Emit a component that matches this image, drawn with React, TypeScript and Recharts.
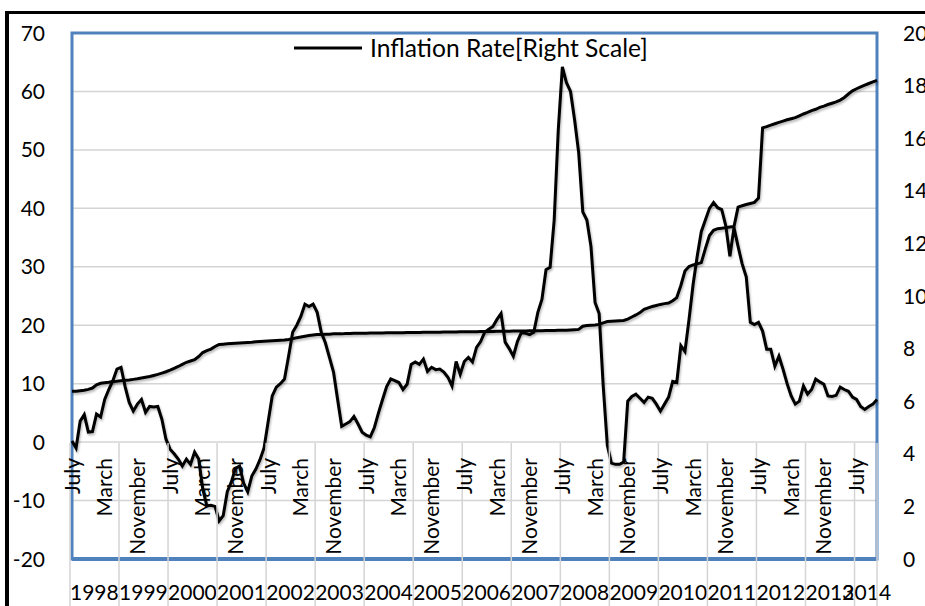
import React from 'react';
import { ComposedChart, Line, XAxis, YAxis, CartesianGrid, ReferenceArea, Legend } from 'recharts';

// Months of each fiscal year (July–June), observation starts July 1998
const monthNames = ['July', 'August', 'September', 'October', 'November', 'December', 'January', 'February', 'March', 'April', 'May', 'June'];
const fiscalYears = ['1998', '1999', '2000', '2001', '2002', '2003', '2004', '2005', '2006', '2007', '2008', '2009', '2010', '2011', '2012', '2013', '2014'];

// Spiky series, read on the left scale (%)
const inflationRate = [
  0.2, -1.0, 3.6, 4.7, 1.7, 1.8, 4.8, 4.3, 7.3, 9.0,
  10.5, 12.5, 12.8, 9.5, 6.8, 5.3, 6.5, 7.3, 5.1, 6.1,
  6.0, 6.1, 3.9, 0.5, -1.2, -2.0, -2.9, -4.1, -2.9, -3.8,
  -1.7, -2.9, -8.0, -10.9, -10.8, -11.0, -13.5, -12.6, -8.5, -6.8,
  -4.5, -4.1, -7.0, -8.5, -5.8, -4.6, -3.0, -1.0, 3.5, 7.9,
  9.4, 10.0, 10.8, 14.7, 18.8, 20.0, 21.5, 23.6, 23.2, 23.6,
  22.2, 18.8, 17.0, 14.5, 12.0, 7.3, 2.7, 3.1, 3.5, 4.4,
  3.1, 1.7, 1.2, 0.9, 2.5, 5.0, 7.3, 9.5, 10.8, 10.5,
  10.2, 9.0, 9.9, 13.3, 13.7, 13.3, 14.2, 12.1, 12.8, 12.4,
  12.5, 12.0, 11.1, 9.6, 13.8, 11.6, 13.8, 14.5, 13.7, 16.2,
  17.2, 18.8, 19.3, 19.8, 21.0, 22.0, 17.1, 16.0, 14.7, 17.2,
  18.8, 18.6, 18.4, 18.8, 22.2, 24.4, 29.5, 29.9, 38.0, 53.4,
  64.2, 61.5, 60.0, 55.1, 49.5, 39.4, 38.0, 33.5, 23.9, 22.0,
  9.6, -0.5, -3.6, -3.8, -3.8, -3.4, 7.0, 7.8, 8.2, 7.5,
  6.8, 7.7, 7.5, 6.5, 5.3, 6.5, 7.7, 10.4, 10.2, 16.5,
  15.5, 21.0, 27.0, 31.8, 36.0, 38.0, 40.0, 41.0, 40.1, 39.8,
  37.0, 31.8, 36.7, 33.5, 30.5, 28.3, 20.5, 20.1, 20.5, 19.0,
  15.9, 15.9, 13.0, 14.7, 12.5, 10.0, 7.9, 6.5, 7.0, 9.6,
  8.2, 9.0, 10.8, 10.3, 9.9, 7.9, 7.8, 8.0, 9.4, 9.0,
  8.7, 7.7, 7.3, 6.1, 5.6, 6.1, 6.5, 7.3,
];

// Smooth series, read on the right scale
const exchangeRate = [
  6.38, 6.38, 6.40, 6.42, 6.45, 6.50, 6.62, 6.68, 6.70, 6.72,
  6.75, 6.76, 6.78, 6.80, 6.81, 6.83, 6.85, 6.88, 6.91, 6.94,
  6.98, 7.02, 7.07, 7.12, 7.18, 7.25, 7.32, 7.40, 7.48, 7.53,
  7.58, 7.70, 7.85, 7.92, 7.98, 8.08, 8.16, 8.17, 8.18, 8.19,
  8.20, 8.21, 8.22, 8.23, 8.24, 8.26, 8.27, 8.28, 8.29, 8.30,
  8.31, 8.32, 8.33, 8.35, 8.38, 8.41, 8.44, 8.47, 8.50, 8.52,
  8.54, 8.54, 8.55, 8.55, 8.56, 8.56, 8.56, 8.57, 8.57, 8.58,
  8.58, 8.58, 8.58, 8.59, 8.59, 8.59, 8.59, 8.60, 8.60, 8.60,
  8.60, 8.60, 8.61, 8.61, 8.61, 8.61, 8.62, 8.62, 8.62, 8.62,
  8.62, 8.63, 8.63, 8.63, 8.63, 8.64, 8.64, 8.64, 8.64, 8.64,
  8.65, 8.65, 8.65, 8.65, 8.66, 8.66, 8.66, 8.66, 8.67, 8.67,
  8.67, 8.67, 8.68, 8.68, 8.68, 8.68, 8.69, 8.69, 8.69, 8.70,
  8.70, 8.70, 8.71, 8.72, 8.73, 8.85, 8.88, 8.89, 8.90, 8.92,
  8.98, 9.03, 9.04, 9.05, 9.06, 9.07, 9.12, 9.20, 9.28, 9.37,
  9.49, 9.55, 9.60, 9.64, 9.68, 9.71, 9.73, 9.82, 9.94, 10.40,
  10.95, 11.12, 11.18, 11.22, 11.27, 11.80, 12.30, 12.50, 12.56, 12.58,
  12.60, 12.62, 12.64, 13.38, 13.43, 13.48, 13.52, 13.56, 13.72, 16.39,
  16.44, 16.50, 16.55, 16.60, 16.65, 16.70, 16.74, 16.78, 16.85, 16.92,
  16.98, 17.05, 17.10, 17.17, 17.22, 17.28, 17.33, 17.38, 17.45, 17.55,
  17.68, 17.80, 17.88, 17.95, 18.02, 18.08, 18.14, 18.20,
];

const leftTicks = [-20, -10, 0, 10, 20, 30, 40, 50, 60, 70];
const rightTicks = [0, 2, 4, 6, 8, 10, 12, 14, 16, 18, 20];
const legendLabel = 'Inflation Rate[Right Scale]';

const data = inflationRate.map((v, i) => ({
  i,
  month: monthNames[i % 12],
  year: fiscalYears[Math.floor(i / 12)],
  inflation: v,
  exchange: exchangeRate[i],
}));

const N = data.length;
const CHART_W = 925;
const LEFT_W = 72;
const RIGHT_W = 48;
const HALF_BAND = (CHART_W - LEFT_W - RIGHT_W) / N / 2;
const FONT = 'Lato, "Open Sans", sans-serif';
const FS = 21;
const BLUE = '#4f81bd';
const GRID = '#d4d4d4';

const XTick = (props: any) => {
  const { x, y, payload } = props;
  const i = Number(payload.value);
  const off = HALF_BAND;
  return (
    <g>
      {i % 12 === 0 && (
        <path d={`M${x - off},${y - 116}L${x - off},${y + 48}`} stroke={GRID} strokeWidth={1.5} fill="none" />
      )}
      {i === N - 1 && (
        <path d={`M${x + off - 2},${y - 116}L${x + off - 2},${y + 48}`} stroke={GRID} strokeWidth={1.5} fill="none" />
      )}
      {i % 8 === 0 && (
        <text x={x} y={y - 101} transform={`rotate(-90, ${x}, ${y - 101})`} textAnchor="end" dy="0.36em"
          fontFamily={FONT} fontSize={FS} fill="#000">{data[i].month}</text>
      )}
      {i % 12 === 0 && (
        <text x={x - off + Math.min(12, N - i) * off} y={y + 41} textAnchor="middle" fontFamily={FONT} fontSize={FS} fill="#000">{data[i].year}</text>
      )}
    </g>
  );
};

const LeftTick = (props: any) => (
  <text x={props.x} y={props.y} textAnchor="end" dy="0.36em" fontFamily={FONT} fontSize={FS} fill="#000">{props.payload.value}</text>
);
const RightTick = (props: any) => (
  <text x={props.x} y={props.y} textAnchor="start" dy="0.36em" fontFamily={FONT} fontSize={FS} fill="#000">{props.payload.value}</text>
);

const LegendContent = () => (
  <div style={{ display: 'flex', alignItems: 'center', fontFamily: FONT, fontSize: 24.6, color: '#000', whiteSpace: 'nowrap' }}>
    <svg width={70} height={10} style={{ marginRight: 7 }}>
      <line x1={1} x2={69} y1={5} y2={5} stroke="#000" strokeWidth={3} />
    </svg>
    <span>{legendLabel}</span>
  </div>
);

export default function App() {
  return (
    <div style={{ position: 'absolute', left: 0, top: 0, width: 925, height: 606, background: '#fff', overflow: 'hidden' }}>
      <style>{`.recharts-line-curve { filter: drop-shadow(1px 2px 1px rgba(0,0,0,0.28)); }`}</style>
      <div style={{ position: 'absolute', left: 5, top: 11, width: 940, height: 620, borderTop: '3px solid #000', borderLeft: '4px solid #000' }} />
      <div style={{ position: 'absolute', left: 0, top: 0 }}>
        <ComposedChart width={CHART_W} height={606} data={data} margin={{ top: 33, right: 0, left: 0, bottom: 0 }}>
          <CartesianGrid yAxisId="left" vertical={false} stroke={GRID} strokeWidth={1.5} />
          <XAxis dataKey="i" type="category" interval={0} height={47} tickSize={0} tickMargin={0} tickLine={false}
            axisLine={{ stroke: BLUE, strokeWidth: 4 }} tick={<XTick />} padding={{ left: 0, right: 0 }} />
          <YAxis yAxisId="left" orientation="left" width={LEFT_W} domain={[-20, 70]} ticks={leftTicks} type="number"
            allowDataOverflow tickLine={false} axisLine={false} tickSize={0} tickMargin={27} tick={<LeftTick />} />
          <YAxis yAxisId="right" orientation="right" width={RIGHT_W} domain={[0, 20]} ticks={rightTicks} type="number"
            allowDataOverflow tickLine={false} axisLine={false} tickSize={0} tickMargin={26} tick={<RightTick />} />
          <ReferenceArea yAxisId="left" x1={0} x2={N - 1} y1={-20} y2={70} fill="none" fillOpacity={0} stroke={BLUE} strokeWidth={3} ifOverflow="visible" />
          <Line yAxisId="right" dataKey="exchange" type="linear" stroke="#000" strokeWidth={3} dot={false} activeDot={false} isAnimationActive={false} />
          <Line yAxisId="left" dataKey="inflation" type="linear" stroke="#000" strokeWidth={3} dot={false} activeDot={false} isAnimationActive={false} />
          <Legend layout="horizontal" verticalAlign="middle" align="center" content={<LegendContent />}
            wrapperStyle={{ position: 'absolute', top: 33, left: 293, width: 'auto', height: 'auto' }} />
        </ComposedChart>
      </div>
    </div>
  );
}
